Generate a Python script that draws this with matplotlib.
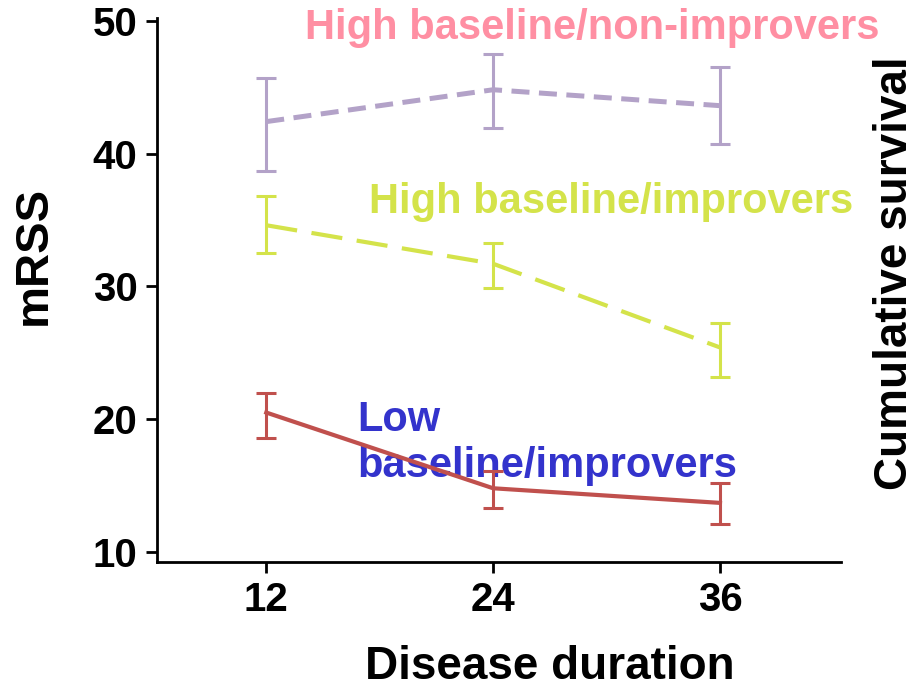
import matplotlib
matplotlib.use('Agg')
import matplotlib.pyplot as plt
import numpy as np

plt.rcParams['font.family'] = ['Liberation Sans', 'DejaVu Sans']
plt.rcParams['font.weight'] = 'bold'

# disease duration (months)
months = [12, 24, 36]

# high baseline / non-improvers
nonimp_mean = [42.4, 44.8, 43.6]
nonimp_lo = [38.7, 41.9, 40.7]
nonimp_hi = [45.7, 47.5, 46.5]

# high baseline / improvers
imp_mean = [34.6, 31.7, 25.4]
imp_lo = [32.5, 29.9, 23.2]
imp_hi = [36.8, 33.3, 27.25]

# low baseline / improvers
low_mean = [20.5, 14.8, 13.7]
low_lo = [18.6, 13.3, 12.1]
low_hi = [22.0, 16.1, 15.2]

yticks = [10, 20, 30, 40, 50]


def err(mean, lo, hi):
    m = np.array(mean)
    return [m - np.array(lo), np.array(hi) - m]


fig = plt.figure(figsize=(9.2, 6.91), dpi=100)
ax = fig.add_axes([157 / 920, 1 - 562 / 691, 684 / 920, 544 / 691])

ax.errorbar(months, nonimp_mean, yerr=err(nonimp_mean, nonimp_lo, nonimp_hi),
            color='#b3a2c8', lw=3.6, linestyle=(0, (3.6, 1.9)),
            elinewidth=2.2, capsize=7, capthick=2.2, zorder=3)
ax.errorbar(months, imp_mean, yerr=err(imp_mean, imp_lo, imp_hi),
            color='#d4e34a', lw=3, linestyle=(0, (7.5, 3.5)),
            elinewidth=2.2, capsize=7, capthick=2.2, zorder=3)
ax.errorbar(months, low_mean, yerr=err(low_mean, low_lo, low_hi),
            color='#c0504d', lw=3, linestyle='-',
            elinewidth=2.2, capsize=7, capthick=2.2, zorder=3)

ax.text(14.07, 48.65, 'High baseline/non-improvers', color='#ff8fa3',
        fontsize=30, fontweight='bold', ha='left', va='baseline', zorder=1)
ax.text(17.41, 35.54, 'High baseline/improvers', color='#d4e34a',
        fontsize=30, fontweight='bold', ha='left', va='baseline', zorder=1)
ax.text(16.83, 15.65, 'Low\nbaseline/improvers', color='#3333cc',
        fontsize=30, fontweight='bold', ha='left', va='baseline', zorder=1)

ax.set_xlim(6.22, 42.4)
ax.set_ylim(9.25, 50.2)
ax.set_xticks(months)
ax.set_yticks(yticks)
ax.tick_params(labelsize=29, width=2, length=8, pad=6)
for lab in ax.get_xticklabels() + ax.get_yticklabels():
    lab.set_fontweight('bold')

for s in ['top', 'right']:
    ax.spines[s].set_visible(False)
for s in ['left', 'bottom']:
    ax.spines[s].set_linewidth(2)

fig.text(550 / 920, 1 - 679 / 691, 'Disease duration', fontsize=33,
         fontweight='bold', ha='center', va='baseline')
fig.text(34 / 920, 1 - 255 / 691, 'mRSS', fontsize=34, fontweight='bold',
         rotation=90, ha='center', va='center')
fig.text(895 / 920, 1 - 273.5 / 691, 'Cumulative survival', fontsize=33,
         fontweight='bold', rotation=90, ha='center', va='center')

fig.savefig('out.png', dpi=100)
